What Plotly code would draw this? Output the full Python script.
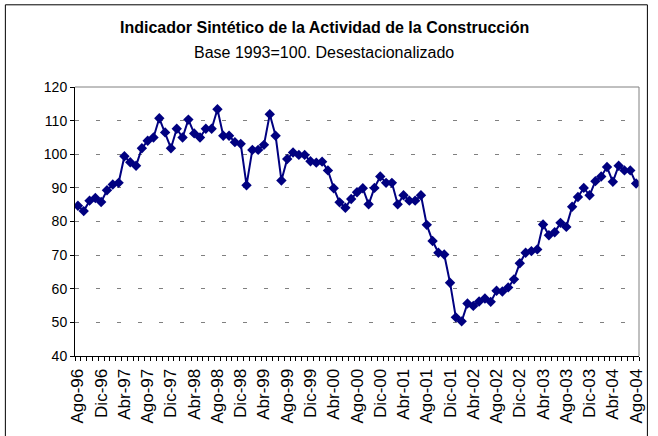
import plotly.graph_objects as go

values = [84.7, 83.1, 86.2, 87.0, 85.8, 89.3, 91.0, 91.5, 99.4, 97.6, 96.6, 101.8, 104.0, 105.0,
          110.7, 106.5, 101.8, 107.6, 105.0, 110.3, 106.2, 105.0, 107.6, 107.6, 113.4, 105.5,
          105.5, 103.6, 103.1, 90.8, 101.3, 101.3, 102.8, 111.9, 105.5, 92.2, 98.6, 100.5, 99.8,
          99.8, 97.9, 97.5, 97.8, 95.2, 89.9, 85.7, 84.1, 86.7, 88.7, 89.9, 85.1, 90.0, 93.4,
          91.5, 91.5, 85.1, 87.8, 86.2, 86.2, 87.8, 79.0, 74.2, 70.7, 70.2, 61.8, 51.5, 50.3,
          55.6, 54.9, 56.2, 57.1, 56.1, 59.4, 59.2, 60.4, 62.8, 67.6, 70.7, 71.2, 71.7, 79.1,
          75.9, 76.8, 79.6, 78.4, 84.4, 87.3, 90.0, 87.8, 92.0, 93.4, 96.2, 91.8, 96.6, 95.2,
          95.2, 91.3]

tick_labels = ["Ago-96", "Dic-96", "Abr-97", "Ago-97", "Dic-97", "Abr-98", "Ago-98", "Dic-98",
               "Abr-99", "Ago-99", "Dic-99", "Abr-00", "Ago-00", "Dic-00", "Abr-01", "Ago-01",
               "Dic-01", "Abr-02", "Ago-02", "Dic-02", "Abr-03", "Ago-03", "Dic-03", "Abr-04",
               "Ago-04"]

title_text = "Indicador Sintético de la Actividad de la Construcción"
subtitle_text = "Base 1993=100. Desestacionalizado"

x = list(range(len(values)))
tickvals = [i * 4 for i in range(len(tick_labels))]

FONT = "Liberation Sans, Arial, sans-serif"

fig = go.Figure()
fig.add_trace(go.Scatter(
    x=x, y=values, mode="lines+markers",
    line=dict(color="#000080", width=2),
    marker=dict(symbol="diamond", size=8, color="#000080"),
    showlegend=False,
))

L, R, T, B = 75, 12, 87, 79
W, H = 658, 436
pw = W - L - R
ph = H - T - B

def px_x(px):
    return (px - L) / pw

def px_y(py):
    return (H - B - py) / ph

fig.update_layout(
    width=W, height=H,
    margin=dict(l=L, r=R, t=T, b=B, pad=0),
    paper_bgcolor="white", plot_bgcolor="white",
    font=dict(family=FONT, size=14, color="black"),
    xaxis=dict(
        range=[-0.5, len(values) - 0.5],
        tickmode="array", tickvals=tickvals, ticktext=tick_labels,
        tickangle=-90, ticks="", showgrid=False, zeroline=False,
        showline=True, linecolor="black", linewidth=1,
        ticklabelstandoff=5,
        minor=dict(ticks="outside", tickmode="array",
                   tickvals=[i - 0.5 for i in range(len(values) + 1)],
                   ticklen=4, tickcolor="black", showgrid=False),
        tickfont=dict(size=17),
    ),
    yaxis=dict(
        range=[40, 120], dtick=10, tick0=40,
        ticks="outside", ticklen=4, tickcolor="black",
        showline=True, linecolor="black", linewidth=1,
        showgrid=True, gridcolor="#808080", gridwidth=1, griddash="4px,17px",
        zeroline=False, tickfont=dict(size=14),
    ),
    annotations=[
        dict(text="<b>" + title_text + "</b>", xref="paper", yref="paper",
             x=px_x(328), y=px_y(27), showarrow=False, xanchor="center", yanchor="middle",
             font=dict(size=16)),
        dict(text=subtitle_text, xref="paper", yref="paper",
             x=px_x(327), y=px_y(52), showarrow=False, xanchor="center", yanchor="middle",
             font=dict(size=16)),
    ],
    shapes=[
        dict(type="line", xref="paper", yref="paper", x0=0, x1=1, y0=1, y1=1,
             line=dict(color="#808080", width=1)),
        dict(type="line", xref="paper", yref="paper", x0=1, x1=1, y0=0, y1=1,
             line=dict(color="#808080", width=1)),
        dict(type="line", xref="paper", yref="paper", x0=px_x(4.5), x1=px_x(654.5),
             y0=px_y(4.5), y1=px_y(4.5), line=dict(color="black", width=1)),
        dict(type="line", xref="paper", yref="paper", x0=px_x(4.5), x1=px_x(4.5),
             y0=px_y(4.5), y1=px_y(440), line=dict(color="black", width=1)),
        dict(type="line", xref="paper", yref="paper", x0=px_x(654.5), x1=px_x(654.5),
             y0=px_y(4.5), y1=px_y(440), line=dict(color="black", width=1)),
    ],
)

fig.write_html("out.html", config={"displayModeBar": False},
               post_script="document.body.style.margin='0';document.body.style.overflow='hidden';")
